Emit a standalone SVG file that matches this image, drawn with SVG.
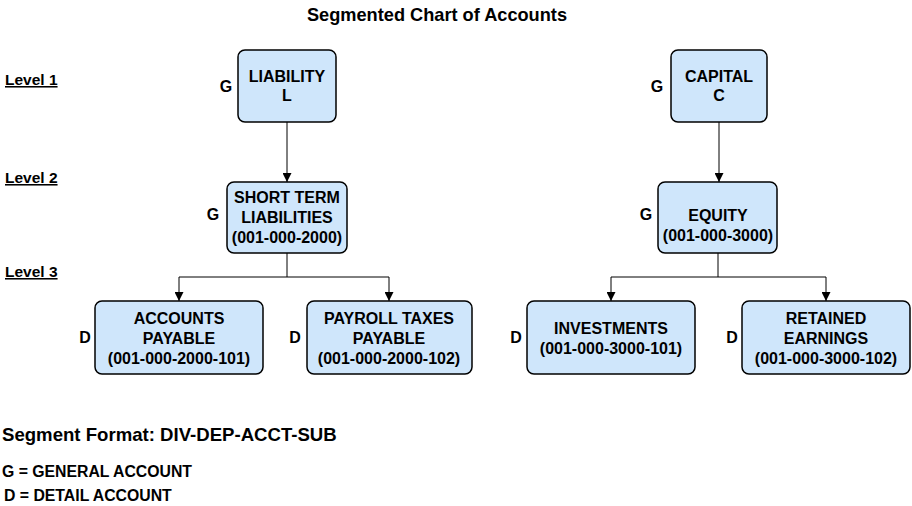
<svg xmlns="http://www.w3.org/2000/svg" width="912" height="506" viewBox="0 0 912 506">
<style>
text{font-family:"Liberation Sans",Arial,sans-serif;font-weight:bold;fill:#000}
.box{fill:#cfe6fb;stroke:#000;stroke-width:1.5}
.t{font-size:16px;text-anchor:middle}
.k{font-size:16px;text-anchor:middle}
.lvl{font-size:15.5px;text-decoration:underline}
.c{fill:none;stroke:#000;stroke-width:1}
</style>
<defs>
<marker id="ah" viewBox="0 0 10 10" refX="10" refY="5" markerWidth="9" markerHeight="9" markerUnits="userSpaceOnUse" orient="auto">
<path d="M0,0 L10,5 L0,10 z" fill="#000"/>
</marker>
</defs>
<rect width="912" height="506" fill="#fff"/>
<text x="437" y="21" font-size="18.2" text-anchor="middle">Segmented Chart of Accounts</text>
<g id="levels">
<text class="lvl" x="5" y="85">Level 1</text>
<text class="lvl" x="5" y="183">Level 2</text>
<text class="lvl" x="5" y="277">Level 3</text>
</g>
<g id="connectors">
<path class="c" d="M287,122 V182" marker-end="url(#ah)"/>
<path class="c" d="M719,122 V182" marker-end="url(#ah)"/>
<path class="c" d="M287,253 V277 M179,277 H389"/>
<path class="c" d="M179,277 V301" marker-end="url(#ah)"/>
<path class="c" d="M389,277 V301" marker-end="url(#ah)"/>
<path class="c" d="M718,253 V277 M611,277 H826"/>
<path class="c" d="M611,277 V301" marker-end="url(#ah)"/>
<path class="c" d="M826,277 V301" marker-end="url(#ah)"/>
</g>
<g id="liability">
<rect class="box" x="238" y="50" width="98" height="72" rx="7"/>
<text class="k" x="226" y="92">G</text>
<text class="t" x="287" y="82">LIABILITY</text>
<text class="t" x="287" y="101">L</text>
</g>
<g id="capital">
<rect class="box" x="671" y="50" width="96" height="72" rx="7"/>
<text class="k" x="657" y="92">G</text>
<text class="t" x="719" y="82">CAPITAL</text>
<text class="t" x="719" y="101">C</text>
</g>
<g id="short-term">
<rect class="box" x="227" y="182" width="120" height="71" rx="7"/>
<text class="k" x="213" y="220">G</text>
<text class="t" x="287" y="203">SHORT TERM</text>
<text class="t" x="287" y="223">LIABILITIES</text>
<text class="t" x="287" y="243">(001-000-2000)</text>
</g>
<g id="equity">
<rect class="box" x="658" y="182" width="119" height="71" rx="7"/>
<text class="k" x="646" y="220">G</text>
<text class="t" x="718" y="221">EQUITY</text>
<text class="t" x="718" y="241">(001-000-3000)</text>
</g>
<g id="accounts-payable">
<rect class="box" x="95" y="301" width="168" height="73" rx="7"/>
<text class="k" x="85" y="343">D</text>
<text class="t" x="179" y="324">ACCOUNTS</text>
<text class="t" x="179" y="344">PAYABLE</text>
<text class="t" x="179" y="364">(001-000-2000-101)</text>
</g>
<g id="payroll-taxes">
<rect class="box" x="307" y="301" width="165" height="73" rx="7"/>
<text class="k" x="295" y="343">D</text>
<text class="t" x="389" y="324">PAYROLL TAXES</text>
<text class="t" x="389" y="344">PAYABLE</text>
<text class="t" x="389" y="364">(001-000-2000-102)</text>
</g>
<g id="investments">
<rect class="box" x="527" y="301" width="168" height="73" rx="7"/>
<text class="k" x="516" y="343">D</text>
<text class="t" x="611" y="334">INVESTMENTS</text>
<text class="t" x="611" y="354">(001-000-3000-101)</text>
</g>
<g id="retained-earnings">
<rect class="box" x="742" y="301" width="168" height="73" rx="7"/>
<text class="k" x="732" y="343">D</text>
<text class="t" x="826" y="324">RETAINED</text>
<text class="t" x="826" y="344">EARNINGS</text>
<text class="t" x="826" y="364">(001-000-3000-102)</text>
</g>
<g id="legend">
<text x="2" y="441" font-size="18.6">Segment Format: DIV-DEP-ACCT-SUB</text>
<text x="2" y="477" font-size="15.8">G = GENERAL ACCOUNT</text>
<text x="4" y="501" font-size="15.8">D = DETAIL ACCOUNT</text>
</g>
</svg>
